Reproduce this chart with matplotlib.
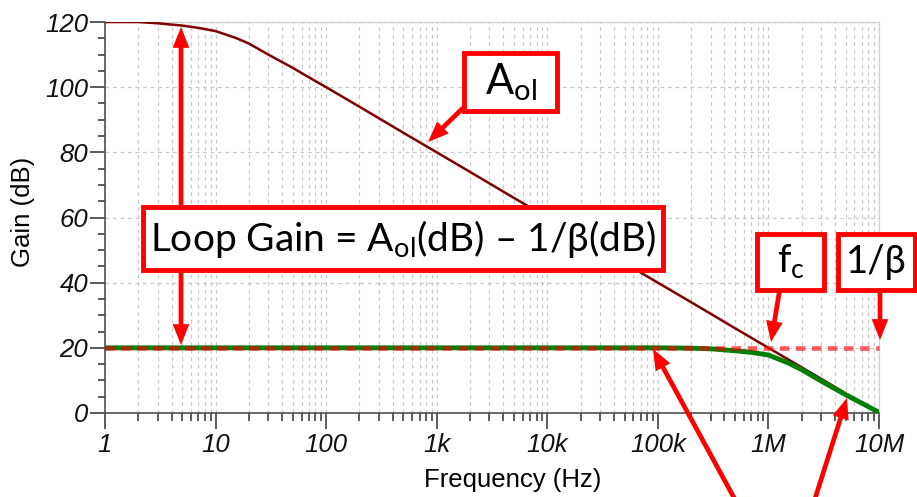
import numpy as np
import matplotlib.pyplot as plt
from matplotlib.patches import Rectangle, FancyArrowPatch
from matplotlib.ticker import FixedLocator, FixedFormatter, LogLocator, MultipleLocator, NullFormatter

plt.rcParams["mathtext.fontset"] = "custom"
plt.rcParams["mathtext.rm"] = "Lato"

W, H = 917, 497

# open-loop gain A_ol (dB)
freq_aol = [1, 2, 3, 5, 7, 10, 15, 20, 30, 50, 70, 100, 200, 500, 1e3, 2e3, 5e3,
            1e4, 2e4, 5e4, 1e5, 2e5, 5e5, 1e6, 1.5e6, 2e6, 3e6, 5e6, 7e6, 1e7]
aol_db = [120, 120, 119.6, 118.9, 118.2, 117.2, 115.2, 113.4, 110, 105.9, 103, 100, 94,
          86, 80, 74, 66, 60, 54, 46, 40, 34, 26, 20, 16.5, 14, 10.5, 6, 3.1, 0]

# closed-loop gain (green)
freq_cl = [1, 10, 100, 1e3, 1e4, 1e5, 2e5, 3e5, 5e5, 7e5, 1e6, 1.5e6, 2e6, 3e6, 5e6, 7e6, 1e7]
cl_db = [20, 20, 20, 20, 20, 20, 19.9, 19.7, 19.1, 18.6, 17.8, 15.4, 13.3, 9.8, 5.6, 3.0, 0.2]

# 1/beta line
freq_beta = [1, 1e7]
beta_db = [20, 20]

xticks = [1, 10, 100, 1e3, 1e4, 1e5, 1e6, 1e7]
xtick_labels = ["1", "10", "100", "1k", "10k", "100k", "1M", "10M"]
yticks = [0, 20, 40, 60, 80, 100, 120]

fig = plt.figure(figsize=(W / 100, H / 100), dpi=100)
ax = fig.add_axes([105 / W, 1 - 413 / H, (879 - 105) / W, (413 - 22) / H])

ax.semilogx(freq_aol, aol_db, color="#800000", lw=1.8, zorder=3)
ax.semilogx(freq_cl, cl_db, color="#008000", lw=3.5, zorder=4, solid_capstyle="round")
ax.semilogx(freq_beta, beta_db, color="#ff0000", alpha=0.62, lw=3.4,
            dashes=(2.0, 1.4), zorder=5, clip_on=False)

ax.set_xlim(1, 1e7)
ax.set_ylim(0, 120)

ax.xaxis.set_major_locator(FixedLocator(xticks))
ax.xaxis.set_major_formatter(FixedFormatter(xtick_labels))
ax.xaxis.set_minor_locator(LogLocator(base=10, subs=np.arange(2, 10), numticks=20))
ax.xaxis.set_minor_formatter(NullFormatter())
ax.yaxis.set_major_locator(FixedLocator(yticks))
ax.yaxis.set_minor_locator(MultipleLocator(5))

tick_font = dict(family="Liberation Sans", style="italic", size=18.5)
for lab in ax.get_xticklabels() + ax.get_yticklabels():
    lab.set_fontproperties(tick_font)
    lab.set_color("#111111")

ax.tick_params(axis="x", which="major", length=11.5, width=1.2, color="#404040", pad=3)
ax.tick_params(axis="x", which="minor", length=5.8, width=1.2, color="#404040")
ax.tick_params(axis="y", which="major", length=11, width=1.2, color="#404040", pad=1)
ax.tick_params(axis="y", which="minor", length=5, width=1.2, color="#404040")

ax.grid(True, which="major", axis="both", color="#c8c8c8", lw=0.9, dashes=(3, 3))
ax.grid(True, which="minor", axis="x", color="#c8c8c8", lw=0.9, dashes=(3, 3))
ax.set_axisbelow(True)

for s in ["left", "bottom"]:
    ax.spines[s].set_color("#505050")
    ax.spines[s].set_linewidth(1.2)
for s in ["top", "right"]:
    ax.spines[s].set_color("#d0d0d0")
    ax.spines[s].set_linewidth(0.9)

ax.set_xlabel("Frequency (Hz)", family="Liberation Sans", size=18.5)
ax.set_ylabel("Gain (dB)", family="Liberation Sans", size=18.5)
ax.xaxis.set_label_coords((513 - 105) / 774, -55 / 391)
ax.yaxis.set_label_coords(-70 / 774, (413 - 212) / 391)


def fp(px, py):
    return (px / W, 1 - py / H)


def box(x0, y0, x1, y1, text, size):
    r = Rectangle(fp(x0, y1), (x1 - x0) / W, (y1 - y0) / H, transform=fig.transFigure,
                  facecolor="white", edgecolor="#ff0000", lw=3.5, zorder=20)
    fig.add_artist(r)
    fig.text((x0 + x1) / 2 / W, 1 - (y0 + y1) / 2 / H, text, ha="center", va="center",
             size=size, family=["Lato", "DejaVu Sans"], color="black", zorder=21)


def arrow(x0, y0, x1, y1):
    a = FancyArrowPatch(fp(x0, y0), fp(x1, y1), transform=fig.transFigure,
                        arrowstyle="simple,head_length=15,head_width=12,tail_width=3.4",
                        mutation_scale=1, color="#ff0000", lw=0, shrinkA=0, shrinkB=0,
                        zorder=15, clip_on=False)
    fig.add_artist(a)


arrow(181, 240, 181, 27)
arrow(181, 240, 181, 345)
arrow(463, 108, 428, 142)
arrow(780, 288, 771, 342)
arrow(880, 288, 880, 340)
arrow(738, 505, 653, 349)
arrow(813, 505, 847, 398)

box(143, 207, 663, 270, r"Loop Gain = A$_\mathregular{ol}$(dB) – 1/β(dB)", 28)
box(464, 53, 557, 111, r"A$_\mathregular{ol}$", 30)
box(757, 234, 824, 290, r"f$_\mathregular{c}$", 27.5)
box(838, 234, 915, 290, "1/β", 27.5)

fig.savefig("out.png", dpi=100)
